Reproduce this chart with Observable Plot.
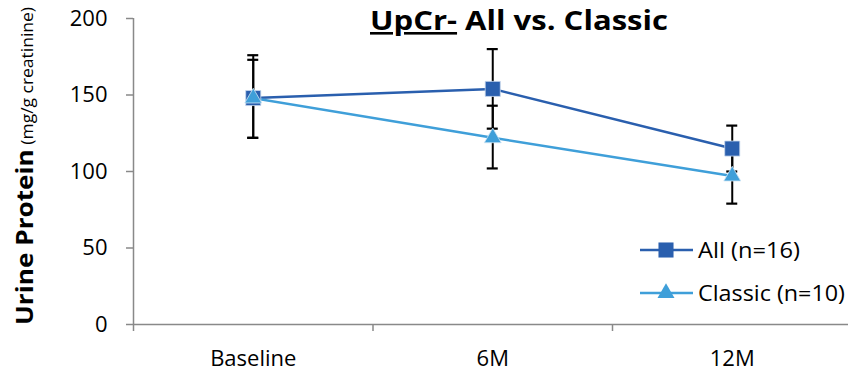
<!DOCTYPE html>
<html><head><meta charset="utf-8">
<script src="https://cdn.jsdelivr.net/npm/d3@7"></script>
<script src="https://cdn.jsdelivr.net/npm/@observablehq/plot@0.6"></script>
<style>
body{margin:0;background:#fff}
#chart{position:relative;width:848px;height:372px;overflow:hidden}
</style>
</head><body><div id="chart"></div>
<script>
const categories = ["Baseline", "6M", "12M"];
const yTicks = [0, 50, 100, 150, 200];
const seriesNames = ["All (n=16)", "Classic (n=10)"];
const allMean = [148, 154, 115];
const allLow = [122, 128, 100];
const allHigh = [173, 180, 130];
const classicMean = [148, 122, 97];
const classicLow = [122, 102, 79];
const classicHigh = [176, 143, 115];

const colors = {"All (n=16)": "#2a5fae", "Classic (n=10)": "#3f9fd9"};
const build = (name, mean, low, high) =>
  categories.map((c, i) => ({series: name, cat: c, xi: i + 0.5, mean: mean[i], low: low[i], high: high[i]}));
const allRows = build(seriesNames[0], allMean, allLow, allHigh);
const classicRows = build(seriesNames[1], classicMean, classicLow, classicHigh);
const rows = [...allRows, ...classicRows];
const boundaries = d3.range(categories.length + 1);
const labelPos = categories.map((c, i) => i + 0.5);

const font = "'Open Sans', sans-serif";
const axisGray = "#898989";

const plot = Plot.plot({
  width: 848, height: 372,
  marginLeft: 133, marginRight: 0, marginTop: 18, marginBottom: 48,
  style: {fontFamily: font, fontSize: "22px", background: "#fff", color: "#000"},
  x: {domain: [0, categories.length], range: [133, 851.5]},
  y: {domain: [0, 200]},
  marks: [
    Plot.ruleY([0], {stroke: axisGray, strokeWidth: 1.5}),
    Plot.ruleX([0], {y1: 0, y2: 200, stroke: axisGray, strokeWidth: 1.5}),
    Plot.axisY({ticks: yTicks, tickSize: 7, tickPadding: 19, stroke: axisGray, strokeWidth: 1.5, fill: "#000", fontSize: 22, label: null}),
    Plot.axisX({ticks: boundaries, tickSize: 7, tickFormat: () => "", stroke: axisGray, strokeWidth: 1.5, label: null}),
    Plot.axisX({ticks: labelPos, tickSize: 0, tickPadding: 26, tickFormat: d => categories[Math.floor(d)], fill: "#000", fontSize: 22, label: null}),
    Plot.line(allRows, {x: "xi", y: "mean", stroke: colors[seriesNames[0]], strokeWidth: 2.5}),
    Plot.line(classicRows, {x: "xi", y: "mean", stroke: colors[seriesNames[1]], strokeWidth: 2.5}),
    Plot.ruleX(rows, {x: "xi", y1: "low", y2: "high", stroke: "#000", strokeWidth: 2}),
    Plot.ruleY(rows, {y: "low", x1: "xi", x2: "xi", insetLeft: -5.5, insetRight: -5.5, stroke: "#000", strokeWidth: 2.2}),
    Plot.ruleY(rows, {y: "high", x1: "xi", x2: "xi", insetLeft: -5.5, insetRight: -5.5, stroke: "#000", strokeWidth: 2.2}),
    Plot.dot(allRows, {x: "xi", y: "mean", symbol: "square", r: 8.5, fill: colors[seriesNames[0]], stroke: "#c9d8ee", strokeWidth: 0.8}),
    Plot.dot(classicRows, {x: "xi", y: "mean", symbol: "triangle", r: 6.3, fill: colors[seriesNames[1]], stroke: "#cfe6f5", strokeWidth: 0.8})
  ]
});
document.getElementById("chart").appendChild(plot);

const svg = d3.select(plot);
// Title
const title = svg.append("text")
  .attr("x", 370).attr("y", 30)
  .attr("text-anchor", "start")
  .attr("textLength", 298).attr("lengthAdjust", "spacingAndGlyphs")
  .style("font-family", font).style("font-size", "26px").style("font-weight", "bold").attr("fill", "#000");
title.append("tspan").attr("text-decoration", "underline").text("UpCr-");
title.append("tspan").text(" All vs. Classic");

// Y label
const yl = svg.append("text")
  .attr("transform", "translate(33,325) rotate(-90)")
  .attr("text-anchor", "start")
  .attr("textLength", 318).attr("lengthAdjust", "spacingAndGlyphs")
  .style("font-family", font).attr("fill", "#000");
yl.append("tspan").style("font-weight", "bold").style("font-size", "24px").text("Urine Protein");
yl.append("tspan").style("font-size", "16px").text(" (mg/g creatinine)");

// Legend
const legend = [
  {name: seriesNames[0], y: 250, symbol: d3.symbolSquare, size: Math.PI * 8.5 * 8.5, len: 102},
  {name: seriesNames[1], y: 293, symbol: d3.symbolTriangle, size: Math.PI * 6.3 * 6.3, len: 147}
];
const lg = svg.append("g");
legend.forEach(d => {
  lg.append("line").attr("x1", 640).attr("x2", 693).attr("y1", d.y).attr("y2", d.y)
    .attr("stroke", colors[d.name]).attr("stroke-width", 2.5);
  lg.append("path").attr("d", d3.symbol(d.symbol, d.size)()).attr("transform", `translate(666,${d.y})`)
    .attr("fill", colors[d.name]);
  lg.append("text").attr("x", 698).attr("y", d.y).attr("dy", "0.35em")
    .attr("text-anchor", "start")
    .attr("textLength", d.len).attr("lengthAdjust", "spacingAndGlyphs")
    .style("font-family", font).style("font-size", "22px").attr("fill", "#000").text(d.name);
});
</script>
</body></html>
